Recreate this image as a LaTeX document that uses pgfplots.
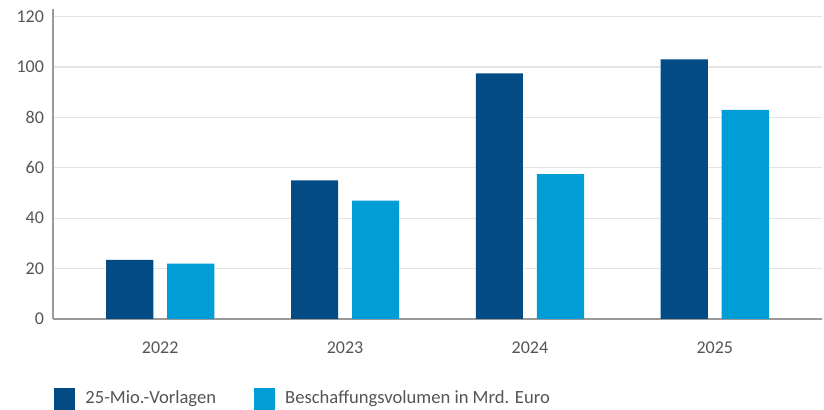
\documentclass[border=0pt]{standalone}
\usepackage{pgfplots}
\pgfplotsset{compat=1.18}
\usepackage{fontspec}
\setmainfont{Carlito}
\definecolor{darkbar}{HTML}{024B85}
\definecolor{lightbar}{HTML}{009DD6}
\definecolor{gridgray}{HTML}{E4E4E4}
\definecolor{axisgray}{HTML}{9A9A9A}
\definecolor{labelgray}{HTML}{555555}
\begin{document}
\begin{tikzpicture}
\useasboundingbox (-26.5pt,-45.5pt) rectangle (385.5pt,159.5pt);
\begin{axis}[
  scale only axis,
  width=384.5pt,
  height=155pt,
  ybar,
  bar width=0.255,
  xmin=-0.58, xmax=3.58,
  ymin=0, ymax=123,
  xtick=data,
  xticklabels={2022,2023,2024,2025},
  ytick={0,20,40,60,80,100,120},
  axis x line*=bottom,
  axis y line*=left,
  axis line style={axisgray, line width=0.8pt},
  x axis line style={-},
  y axis line style={-},
  major tick length=0pt,
  ymajorgrids,
  grid style={gridgray, line width=0.6pt},
  tick label style={font=\fontsize{9}{10}\selectfont, text=labelgray},
  /pgf/number format/assume math mode=true,
  xticklabel style={yshift=-8pt},
  yticklabel style={xshift=-1pt},
  legend style={draw=none, at={(0,0)}, anchor=west, xshift=-2.5pt, yshift=-40pt,
    font=\fontsize{9.3}{10}\selectfont, text=labelgray,
    /tikz/every odd column/.append style={column sep=3pt},
    /tikz/every even column/.append style={column sep=17pt}},
  legend columns=2,
  legend cell align=left,
  legend image code/.code={\fill[#1] (0pt,-5.5pt) rectangle (10.5pt,5.5pt);},
]
\addplot[fill=darkbar, draw=none, bar shift=-0.165] coordinates {
  (0,23.5) (1,55) (2,97.5) (3,103)
};
\addlegendentry{25-Mio.-Vorlagen}
\addplot[fill=lightbar, draw=none, bar shift=0.165] coordinates {
  (0,22) (1,47) (2,57.5) (3,83)
};
\addlegendentry{Beschaffungsvolumen in Mrd. Euro}
\end{axis}
\end{tikzpicture}
\end{document}
